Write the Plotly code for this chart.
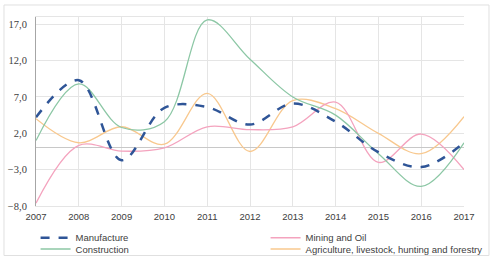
import plotly.graph_objects as go

years = [2007, 2008, 2009, 2010, 2011, 2012, 2013, 2014, 2015, 2016, 2017]
manufacture = [4.2, 9.3, -1.7, 5.5, 5.6, 3.2, 6.1, 3.6, -0.6, -2.65, 0.7]
construction = [1.0, 8.8, 2.8, 3.6, 17.6, 12.2, 7.0, 4.5, -0.8, -5.3, 0.7]
mining = [-7.6, 0.35, -0.45, 0.0, 2.9, 2.5, 2.9, 6.3, -2.0, 1.9, -3.0]
agriculture = [4.0, 0.7, 2.9, 0.5, 7.5, -0.5, 6.5, 5.4, 2.0, -0.8, 4.3]

series = [
    ("Agriculture, livestock, hunting and forestry", agriculture, "#F8C88E", "solid", 1.3, "legend2", 2),
    ("Mining and Oil", mining, "#F4A3BE", "solid", 1.3, "legend", 2),
    ("Construction", construction, "#8CC7A5", "solid", 1.3, "legend2", 1),
    ("Manufacture", manufacture, "#2F5597", "dash", 2.5, "legend", 1),
]

fig = go.Figure()
for name, vals, color, dash, width, leg, rank in series:
    fig.add_trace(go.Scatter(
        x=years, y=vals, name=name, mode="lines",
        line=dict(color=color, width=width, dash=dash, shape="spline", smoothing=1.0),
        legend=leg, legendrank=rank,
    ))

legend_common = dict(
    orientation="h", xanchor="left", yanchor="middle",
    entrywidth=185, entrywidthmode="pixels", itemwidth=30,
    font=dict(family="Liberation Sans", size=9.5, color="#404040"),
    bgcolor="rgba(0,0,0,0)", traceorder="normal",
)

fig.update_layout(
    width=495, height=263,
    margin=dict(l=36, r=31, t=17, b=57, autoexpand=False),
    paper_bgcolor="white", plot_bgcolor="white",
    separators=",.",
    showlegend=True,
    legend=dict(x=-0.001, y=-0.168, **legend_common),
    legend2=dict(x=-0.001, y=-0.2275, **legend_common),
    xaxis=dict(
        range=[2007, 2017], tickmode="array", tickvals=years,
        ticktext=[str(y) for y in years],
        showgrid=True, gridcolor="#E5E5E5", gridwidth=1,
        showline=True, mirror=True, linecolor="#E5E5E5", linewidth=1,
        zeroline=False,
        tickfont=dict(family="Liberation Sans", size=9.5, color="#404040"),
        ticks="", ticklabelstandoff=2,
    ),
    yaxis=dict(
        range=[-8, 18], tick0=-8, dtick=5, tickformat=".1f",
        showgrid=True, gridcolor="#E5E5E5", gridwidth=1,
        showline=True, linecolor="#A6A6A6", linewidth=1,
        zeroline=True, zerolinecolor="#C8C8C8", zerolinewidth=1,
        tickfont=dict(family="Liberation Serif", size=10.5, color="#404040"),
        ticks="", ticklabelstandoff=6,
    ),
    shapes=[dict(
        type="rect", xref="paper", yref="paper",
        x0=-0.0748, x1=1.0584, y0=-0.262, y1=1.0635,
        line=dict(color="#E0E0E0", width=1), layer="below",
    )],
)

fig.write_html("out.html", config={"displayModeBar": False},
               post_script="document.body.style.margin='0';")
